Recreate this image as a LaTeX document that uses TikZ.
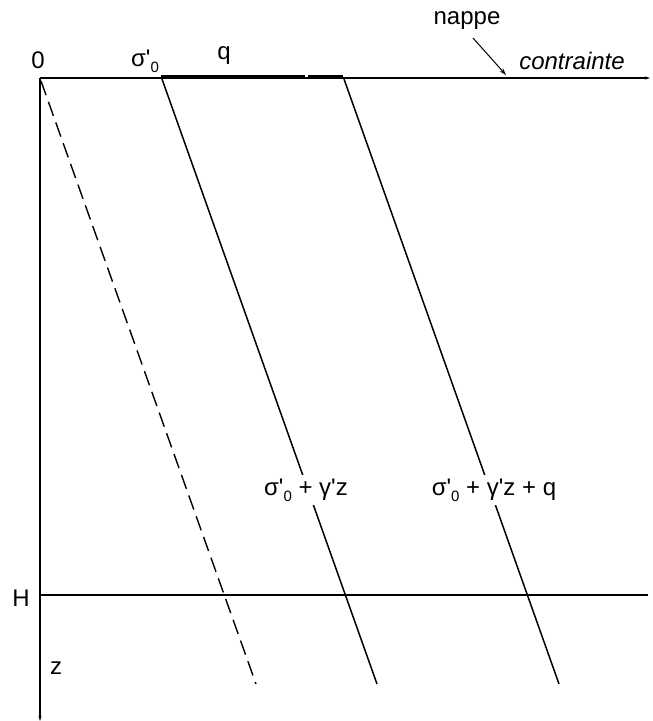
\documentclass[tikz,border=0pt]{standalone}
\usepackage{fontspec}
\newfontfamily\lsans{Liberation Sans}
\usetikzlibrary{arrows.meta}
\newcommand{\subz}{\raisebox{-0.45ex}{\fontsize{15}{17}\selectfont 0}}
\begin{document}
\begin{tikzpicture}[x=1pt,y=-1pt,
  lbl/.style={font=\lsans\fontsize{24}{28}\selectfont, inner sep=0pt},
  axis/.style={line width=1.1pt},
  law/.style={line width=1.5pt},
  lawdash/.style={line width=1.4pt, dash pattern=on 15pt off 7pt},
  load/.style={line width=4pt},
  tip/.style={-{Stealth[length=7pt,width=4.5pt]}}]
\useasboundingbox (0,0) rectangle (653,721);
% axes
\coordinate (O) at (40,78);
\coordinate (Xend) at (650,78);
\coordinate (Zend) at (40,721);
\coordinate (H0) at (40,595);
\coordinate (H1) at (648,595);
\draw[axis,-{Stealth[length=5pt,width=3pt]}] (O) -- (Xend);
\draw[axis,-{Stealth[length=5pt,width=3pt]}] (O) -- (Zend);
\draw[axis] (H0) -- (H1);
% surcharge q
\coordinate (S0) at (161,77);
\coordinate (Sg1) at (305,77);
\coordinate (Sg2) at (308,77);
\coordinate (S1) at (343,77);
\draw[load] (S0) -- (Sg1);
\draw[load] (Sg2) -- (S1);
% lines
\coordinate (D0) at (41,81);
\coordinate (D1) at (256,684);
\coordinate (L10) at (162,79);
\coordinate (L11) at (377,684);
\coordinate (L20) at (344,79);
\coordinate (L21) at (559,684);
\draw[lawdash] (D0) -- (D1);
\draw[law] (L10) -- (L11);
\draw[law] (L20) -- (L21);
% labels
\node[lbl] (zero) at (38,60) {0};
\node[lbl] (sig) at (145,61) {σ'\subz};
\node[lbl] (q) at (224,56) {q};
\node[lbl] (nappe) at (467,21) {nappe};
\node[lbl] (contr) at (572,61) {\itshape contrainte};
\coordinate (nap0) at (473,38);
\coordinate (nap1) at (506,75);
\draw[line width=1pt,tip] (nap0) -- (nap1);
\node[lbl] (Hl) at (21,598) {H};
\node[lbl] (zl) at (56,668) {z};
\node[lbl,fill=white,inner ysep=4pt,inner xsep=1pt] (t1) at (306,490) {σ'\subz{} + γ'z};
\node[lbl,fill=white,inner ysep=4pt,inner xsep=1pt] (t2) at (494,490) {σ'\subz{} + γ'z + q};
\end{tikzpicture}
\end{document}
